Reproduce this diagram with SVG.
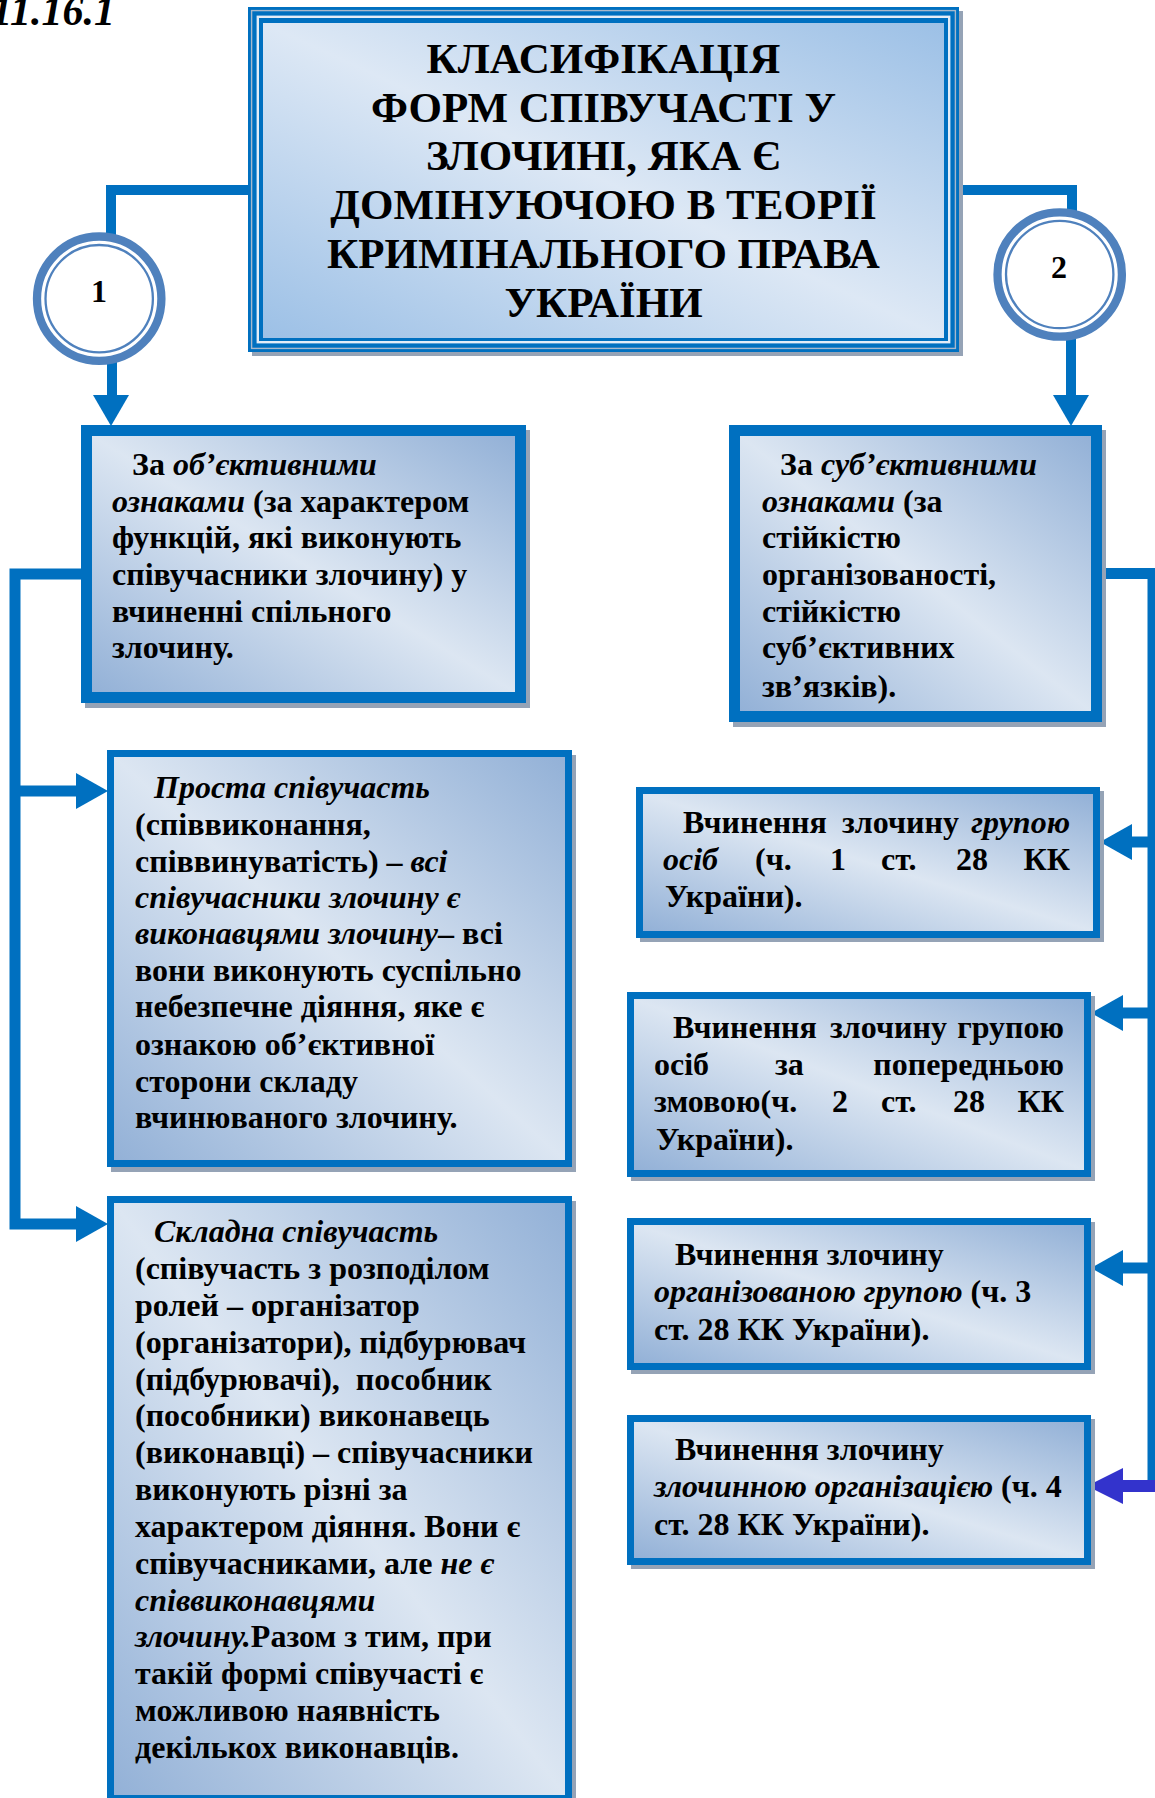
<svg xmlns="http://www.w3.org/2000/svg" width="1155" height="1798" viewBox="0 0 1155 1798">
<defs>
<linearGradient id="gBox" x1="1" y1="0" x2="0" y2="1">
<stop offset="0" stop-color="#93B1D7"/>
<stop offset="0.5" stop-color="#DCE6F2"/>
<stop offset="1" stop-color="#93B1D7"/>
</linearGradient>
<linearGradient id="gTitle" x1="1" y1="0" x2="0" y2="1">
<stop offset="0" stop-color="#9CC0E6"/>
<stop offset="0.5" stop-color="#DDE8F5"/>
<stop offset="1" stop-color="#9CC0E6"/>
</linearGradient>
</defs>
<style>
.t{font-family:"Liberation Serif","Times New Roman",serif;font-weight:bold;font-size:32px;fill:#000}
.i{font-style:italic}
.h{font-family:"Liberation Serif","Times New Roman",serif;font-weight:bold;font-size:43px;fill:#000;text-anchor:middle}
.n{font-family:"Liberation Serif","Times New Roman",serif;font-weight:bold;font-size:32px;fill:#000;text-anchor:middle}
.e{text-anchor:end}
.sh{fill:#95A3B6}
.bd{fill:#0070C0}
.fl{fill:url(#gBox)}
.ring{fill:#fff;stroke:#4F81BD;stroke-width:8.3}
.ring2{fill:none;stroke:#4F81BD;stroke-width:2.3}
.ah{fill:#0070C0}
</style>
<rect width="1155" height="1798" fill="#fff"/>

<text class="t i" x="115" y="25" text-anchor="end" style="font-size:42px">11.16.1</text>

<g id="connectors">
<g fill="none" stroke="#0070C0" stroke-width="10">
<path d="M255,190 H111 V240"/>
<path d="M112,355 V400"/>
<path d="M952,190 H1072 V215"/>
<path d="M1071,335 V399"/>
</g>
<g fill="none" stroke="#0070C0" stroke-width="11">
<path d="M86,574 H15 V1224 H80"/>
<path d="M15,791 H80"/>
<path d="M1097,573.5 H1153 V1486"/>
<path d="M1153,842 H1128"/>
<path d="M1153,1013 H1120"/>
<path d="M1153,1268 H1120"/>
</g>
<path d="M1158,1486 H1120" fill="none" stroke="#3333CC" stroke-width="12"/>
<polygon class="ah" points="93,395 129,395 111,426"/>
<polygon class="ah" points="1053,395 1089,395 1071,426"/>
<polygon class="ah" points="76,773 76,809 108,791"/>
<polygon class="ah" points="76,1206 76,1242 108,1224"/>
<polygon class="ah" points="1132,824 1132,860 1100,842"/>
<polygon class="ah" points="1123,995 1123,1031 1091,1013"/>
<polygon class="ah" points="1123,1250 1123,1286 1091,1268"/>
<polygon points="1123,1468 1123,1504 1087,1486" fill="#3333CC"/>
</g>

<g id="title">
<rect x="252" y="11" width="711" height="345" class="sh"/>
<rect x="248" y="7" width="711" height="345" class="bd"/>
<rect x="251.6" y="10.6" width="703.8" height="337.8" fill="none" stroke="#A7B8CC" stroke-width="1.4"/>
<rect x="257.8" y="16.8" width="691.4" height="325.4" fill="none" stroke="#E3ECF7" stroke-width="2.4"/>
<rect x="263" y="23" width="681" height="315" fill="url(#gTitle)"/>
<text class="h" x="603.5" y="73">КЛАСИФІКАЦІЯ</text>
<text class="h" x="603.5" y="122">ФОРМ СПІВУЧАСТІ У</text>
<text class="h" x="603.5" y="170">ЗЛОЧИНІ, ЯКА Є</text>
<text class="h" x="603.5" y="219">ДОМІНУЮЧОЮ В ТЕОРІЇ</text>
<text class="h" x="603.5" y="268">КРИМІНАЛЬНОГО ПРАВА</text>
<text class="h" x="603.5" y="317">УКРАЇНИ</text>
</g>

<g id="circle1">
<circle cx="99.2" cy="298.7" r="62.2" class="ring"/>
<circle cx="99.2" cy="298.7" r="53.7" class="ring2"/>
<text class="n" x="99" y="302">1</text>
</g>

<g id="circle2">
<circle cx="1059.7" cy="274.5" r="62.2" class="ring"/>
<circle cx="1059.7" cy="274.5" r="53.7" class="ring2"/>
<text class="n" x="1059" y="278">2</text>
</g>

<g id="boxA">
<rect x="85" y="430" width="445" height="278" class="sh"/>
<rect x="81" y="425" width="445" height="278" class="bd"/>
<rect x="92" y="436" width="423" height="256" class="fl"/>
<text class="t" x="132" y="475">За <tspan class="i">об’єктивними</tspan></text>
<text class="t" x="112" y="512"><tspan class="i">ознаками</tspan> (за характером</text>
<text class="t" x="112" y="548">функцій, які виконують</text>
<text class="t" x="112" y="585">співучасники злочину) у</text>
<text class="t" x="112" y="622">вчиненні спільного</text>
<text class="t" x="112" y="658">злочину.</text>
</g>

<g id="boxR">
<rect x="733" y="430" width="373" height="297" class="sh"/>
<rect x="729" y="425" width="373" height="297" class="bd"/>
<rect x="740" y="436" width="351" height="275" class="fl"/>
<text class="t" x="780" y="475">За <tspan class="i">суб’єктивними</tspan></text>
<text class="t" x="762" y="512"><tspan class="i">ознаками</tspan> (за</text>
<text class="t" x="762" y="548">стійкістю</text>
<text class="t" x="762" y="585">організованості,</text>
<text class="t" x="762" y="622">стійкістю</text>
<text class="t" x="762" y="658">суб’єктивних</text>
<text class="t" x="762" y="697">зв’язків).</text>
</g>

<g id="boxB">
<rect x="111" y="755" width="465" height="417" class="sh"/>
<rect x="107" y="750" width="465" height="417" class="bd"/>
<rect x="114" y="757" width="451" height="403" class="fl"/>
<text class="t i" x="154" y="798">Проста співучасть</text>
<text class="t" x="135" y="835">(співвиконання,</text>
<text class="t" x="135" y="872">співвинуватість) – <tspan class="i">всі</tspan></text>
<text class="t i" x="135" y="908">співучасники злочину є</text>
<text class="t" x="135" y="944"><tspan class="i">виконавцями злочину</tspan>– всі</text>
<text class="t" x="135" y="981">вони виконують суспільно</text>
<text class="t" x="135" y="1017">небезпечне діяння, яке є</text>
<text class="t" x="135" y="1055">ознакою об’єктивної</text>
<text class="t" x="135" y="1092">сторони складу</text>
<text class="t" x="135" y="1128">вчинюваного злочину.</text>
</g>

<g id="boxC">
<rect x="111" y="1201" width="465" height="610" class="sh"/>
<rect x="107" y="1196" width="465" height="610" class="bd"/>
<rect x="114" y="1203" width="451" height="592" class="fl"/>
<text class="t i" x="154" y="1242">Складна співучасть</text>
<text class="t" x="135" y="1279">(співучасть з розподілом</text>
<text class="t" x="135" y="1316">ролей – організатор</text>
<text class="t" x="135" y="1353">(організатори), підбурювач</text>
<text class="t" x="135" y="1390" xml:space="preserve">(підбурювачі),  пособник</text>
<text class="t" x="135" y="1426">(пособники) виконавець</text>
<text class="t" x="135" y="1463">(виконавці) – співучасники</text>
<text class="t" x="135" y="1500">виконують різні за</text>
<text class="t" x="135" y="1537">характером діяння. Вони є</text>
<text class="t" x="135" y="1574">співучасниками, але <tspan class="i">не є</tspan></text>
<text class="t i" x="135" y="1611">співвиконавцями</text>
<text class="t" x="135" y="1647"><tspan class="i">злочину.</tspan>Разом з тим, при</text>
<text class="t" x="135" y="1684">такій формі співучасті є</text>
<text class="t" x="135" y="1721">можливою наявність</text>
<text class="t" x="135" y="1758">декількох виконавців.</text>
</g>

<g id="boxD">
<rect x="640" y="791" width="464" height="151" class="sh"/>
<rect x="636" y="787" width="464" height="151" class="bd"/>
<rect x="643" y="794" width="450" height="137" class="fl"/>
<text class="t" x="683" y="833">Вчинення</text>
<text class="t" x="842" y="833">злочину</text>
<text class="t i e" x="1070" y="833">групою</text>
<text class="t i" x="663" y="870">осіб</text>
<text class="t" x="755" y="870">(ч.</text>
<text class="t" x="830" y="870">1</text>
<text class="t" x="881" y="870">ст.</text>
<text class="t" x="956" y="870">28</text>
<text class="t e" x="1070" y="870">КК</text>
<text class="t" x="665" y="907">України).</text>
</g>

<g id="boxE">
<rect x="631" y="996" width="464" height="185" class="sh"/>
<rect x="627" y="992" width="464" height="185" class="bd"/>
<rect x="634" y="999" width="450" height="171" class="fl"/>
<text class="t" x="673" y="1038">Вчинення</text>
<text class="t" x="830" y="1038">злочину</text>
<text class="t e" x="1064" y="1038">групою</text>
<text class="t" x="654" y="1075">осіб</text>
<text class="t" x="775" y="1075">за</text>
<text class="t e" x="1064" y="1075">попередньою</text>
<text class="t" x="654" y="1112">змовою(ч.</text>
<text class="t" x="832" y="1112">2</text>
<text class="t" x="881" y="1112">ст.</text>
<text class="t" x="953" y="1112">28</text>
<text class="t e" x="1064" y="1112">КК</text>
<text class="t" x="656" y="1150">України).</text>
</g>

<g id="boxF">
<rect x="631" y="1222" width="464" height="152" class="sh"/>
<rect x="627" y="1218" width="464" height="152" class="bd"/>
<rect x="634" y="1225" width="450" height="138" class="fl"/>
<text class="t" x="675" y="1265">Вчинення злочину</text>
<text class="t" x="654" y="1302"><tspan class="i">організованою групою</tspan> (ч. 3</text>
<text class="t" x="654" y="1340">ст. 28 КК України).</text>
</g>

<g id="boxG">
<rect x="631" y="1419" width="464" height="150" class="sh"/>
<rect x="627" y="1415" width="464" height="150" class="bd"/>
<rect x="634" y="1422" width="450" height="136" class="fl"/>
<text class="t" x="675" y="1460">Вчинення злочину</text>
<text class="t" x="654" y="1497"><tspan class="i">злочинною організацією</tspan> (ч. 4</text>
<text class="t" x="654" y="1535">ст. 28 КК України).</text>
</g>
</svg>
